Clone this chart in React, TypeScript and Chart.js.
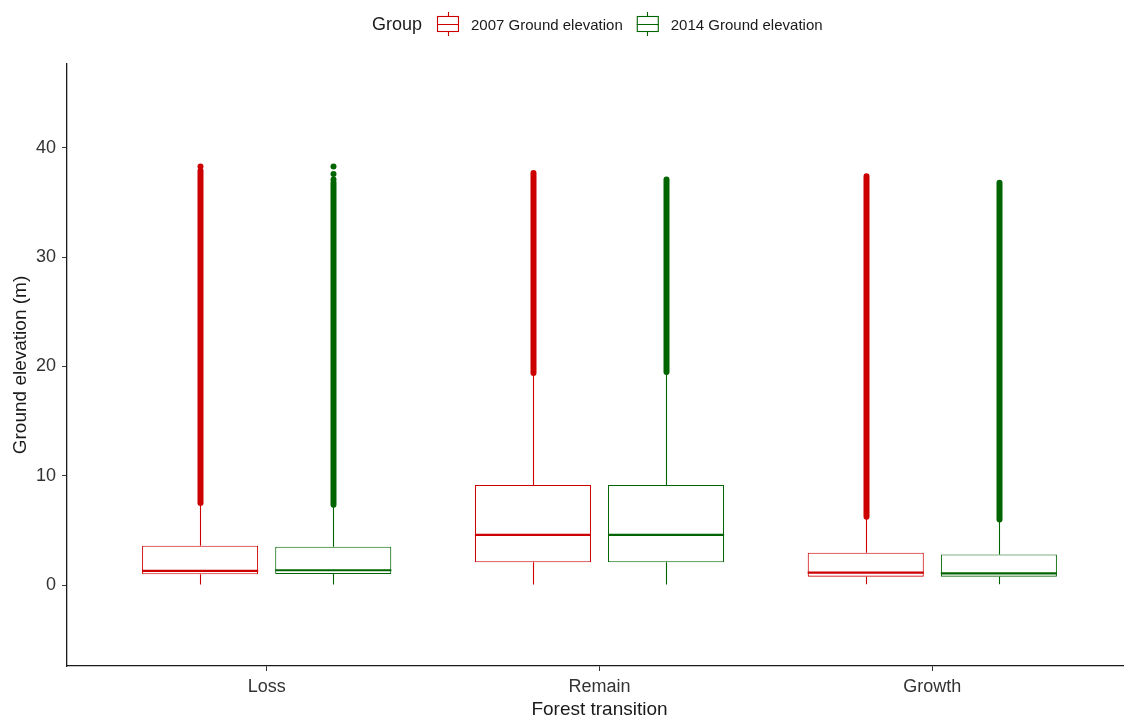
import React, { useEffect, useRef } from 'react';
import { Chart, registerables } from 'chart.js';

Chart.register(...registerables);

// ---------- data ----------
const categories = ['Loss', 'Remain', 'Growth'];
const seriesLabels = ['2007 Ground elevation', '2014 Ground elevation'];
const seriesColors = ['#CD0000', '#006400'];
const yTickValues = [0, 10, 20, 30, 40];

const lowerWhisker2007 = [0.05, 0.05, 0.06];
const q1_2007 = [0.98, 2.08, 0.76];
const median2007 = [1.3, 4.58, 1.13];
const q3_2007 = [3.6, 9.15, 2.96];
const upperWhisker2007 = [7.3, 19.3, 6.2];
const outlierFrom2007 = [7.5, 19.4, 6.25];
const outlierTo2007 = [37.9, 37.7, 37.4];
const sparseOutliers2007 = [[38.3], [], []];

const lowerWhisker2014 = [0.05, 0.05, 0.06];
const q1_2014 = [1.0, 2.08, 0.76];
const median2014 = [1.35, 4.58, 1.07];
const q3_2014 = [3.5, 9.15, 2.8];
const upperWhisker2014 = [7.2, 19.4, 5.9];
const outlierFrom2014 = [7.35, 19.5, 6.0];
const outlierTo2014 = [36.8, 37.1, 36.8];
const sparseOutliers2014 = [[38.3, 37.6, 37.1], [], []];

const stats = [
  {
    lo: lowerWhisker2007, q1: q1_2007, med: median2007, q3: q3_2007, hi: upperWhisker2007,
    oFrom: outlierFrom2007, oTo: outlierTo2007, sparse: sparseOutliers2007,
  },
  {
    lo: lowerWhisker2014, q1: q1_2014, med: median2014, q3: q3_2014, hi: upperWhisker2014,
    oFrom: outlierFrom2014, oTo: outlierTo2014, sparse: sparseOutliers2014,
  },
];

const FONT = "'Liberation Sans', Arial, Helvetica, sans-serif";

const boxPlugin = {
  id: 'boxExtras',
  beforeDatasetsDraw(chart: any) {
    const ctx = chart.ctx;
    const ys = chart.scales.y;
    chart.data.datasets.forEach((ds: any, i: number) => {
      const meta = chart.getDatasetMeta(i);
      const st = stats[i];
      const color = ds.borderColor;
      meta.data.forEach((bar: any, j: number) => {
        const x = Math.round(bar.x) + 0.5;
        ctx.save();
        ctx.strokeStyle = color;
        ctx.fillStyle = color;
        // whiskers
        ctx.lineWidth = 1.1;
        ctx.beginPath();
        ctx.moveTo(x, ys.getPixelForValue(st.lo[j]));
        ctx.lineTo(x, ys.getPixelForValue(st.q1[j]));
        ctx.moveTo(x, ys.getPixelForValue(st.q3[j]));
        ctx.lineTo(x, ys.getPixelForValue(st.hi[j]));
        ctx.stroke();
        // dense outlier run
        ctx.lineWidth = 6;
        ctx.lineCap = 'round';
        ctx.beginPath();
        ctx.moveTo(x, ys.getPixelForValue(st.oFrom[j]));
        ctx.lineTo(x, ys.getPixelForValue(st.oTo[j]));
        ctx.stroke();
        // isolated outliers
        st.sparse[j].forEach((v: number) => {
          ctx.beginPath();
          ctx.arc(x, ys.getPixelForValue(v), 3, 0, Math.PI * 2);
          ctx.fill();
        });
        ctx.restore();
      });
    });
  },
  afterDatasetsDraw(chart: any) {
    const ctx = chart.ctx;
    const ys = chart.scales.y;
    chart.data.datasets.forEach((ds: any, i: number) => {
      const meta = chart.getDatasetMeta(i);
      const st = stats[i];
      meta.data.forEach((bar: any, j: number) => {
        const yPix = ys.getPixelForValue(st.med[j]);
        ctx.save();
        ctx.strokeStyle = ds.borderColor;
        ctx.lineWidth = 2.2;
        ctx.beginPath();
        ctx.moveTo(bar.x - bar.width / 2, yPix);
        ctx.lineTo(bar.x + bar.width / 2, yPix);
        ctx.stroke();
        ctx.restore();
      });
    });
  },
  afterDraw(chart: any) {
    const ctx = chart.ctx;
    ctx.save();
    const cy = 24.5;
    ctx.fillStyle = '#1a1a1a';
    ctx.textBaseline = 'middle';
    ctx.textAlign = 'left';
    ctx.font = `18px ${FONT}`;
    ctx.fillText('Group', 372, cy + 1);
    let x = 437;
    chart.data.datasets.forEach((ds: any) => {
      const c = ds.borderColor;
      ctx.strokeStyle = c;
      ctx.lineWidth = 1.1;
      const w = 21;
      const cx = Math.round(x + w / 2) + 0.5;
      ctx.strokeRect(x + 0.5, 16.5, w, 15);
      ctx.beginPath();
      ctx.moveTo(x, 24.5);
      ctx.lineTo(x + w + 1, 24.5);
      ctx.moveTo(cx, 12);
      ctx.lineTo(cx, 16.5);
      ctx.moveTo(cx, 31.5);
      ctx.lineTo(cx, 36);
      ctx.stroke();
      ctx.fillStyle = '#1a1a1a';
      ctx.font = `15px ${FONT}`;
      ctx.fillText(ds.label, x + 34, cy + 1);
      const tw = ctx.measureText(ds.label).width;
      x = x + 34 + tw + 14;
    });
    ctx.restore();
  },
};

export default function App() {
  const canvasRef = useRef<HTMLCanvasElement | null>(null);

  useEffect(() => {
    const canvas = canvasRef.current;
    if (!canvas) return;
    const datasets = seriesLabels.map((label, i) => ({
      label,
      data: categories.map((_, j) => ({ x: j + 1, y: [stats[i].q1[j], stats[i].q3[j]] })),
      backgroundColor: '#ffffff',
      borderColor: seriesColors[i],
      borderWidth: 1.1,
      borderSkipped: false,
      categoryPercentage: 0.8,
      barPercentage: 0.872,
    }));

    const chart = new Chart(canvas, {
      type: 'bar',
      data: { datasets } as any,
      plugins: [boxPlugin],
      options: {
        animation: false,
        responsive: false,
        devicePixelRatio: 1,
        layout: { padding: { top: 64, left: 0, right: 0, bottom: 0 } },
        plugins: { legend: { display: false }, tooltip: { enabled: false } },
        scales: {
          x: {
            type: 'linear',
            min: 0.4,
            max: 3.6,
            offset: false,
            afterBuildTicks: (scale: any) => {
              scale.ticks = categories.map((_, i) => ({ value: i + 1 }));
            },
            afterFit: (scale: any) => {
              scale.height = 53;
            },
            ticks: {
              callback: (v: any) => categories[Math.round(Number(v)) - 1] ?? '',
              color: '#333333',
              font: { family: FONT, size: 18 },
              padding: 5,
              maxRotation: 0,
              autoSkip: false,
            },
            grid: { offset: false, drawOnChartArea: false, drawTicks: true, tickLength: 5, color: '#333333', lineWidth: 1 },
            border: { display: true, color: '#1a1a1a', width: 1.3 },
            title: {
              display: true,
              text: 'Forest transition',
              color: '#1a1a1a',
              font: { family: FONT, size: 19, lineHeight: 1 },
              padding: { top: 0, bottom: 0 },
            },
          },
          y: {
            type: 'linear',
            min: -7.41,
            max: 47.67,
            afterBuildTicks: (scale: any) => {
              scale.ticks = yTickValues.map((v) => ({ value: v }));
            },
            afterFit: (scale: any) => {
              scale.width = 67;
            },
            ticks: {
              color: '#333333',
              font: { family: FONT, size: 18 },
              padding: 6,
            },
            grid: { drawOnChartArea: false, drawTicks: true, tickLength: 5, color: '#333333', lineWidth: 1 },
            border: { display: true, color: '#1a1a1a', width: 1.3 },
            title: {
              display: true,
              text: 'Ground elevation (m)',
              color: '#1a1a1a',
              font: { family: FONT, size: 19, lineHeight: 1 },
              padding: { top: 11, bottom: 0 },
            },
          },
        },
      } as any,
    });
    return () => chart.destroy();
  }, []);

  return (
    <div style={{ position: 'absolute', left: 0, top: 0, width: 1124, height: 719, overflow: 'hidden', background: '#fff' }}>
      <canvas ref={canvasRef} width={1132} height={719} style={{ display: 'block' }} />
    </div>
  );
}
